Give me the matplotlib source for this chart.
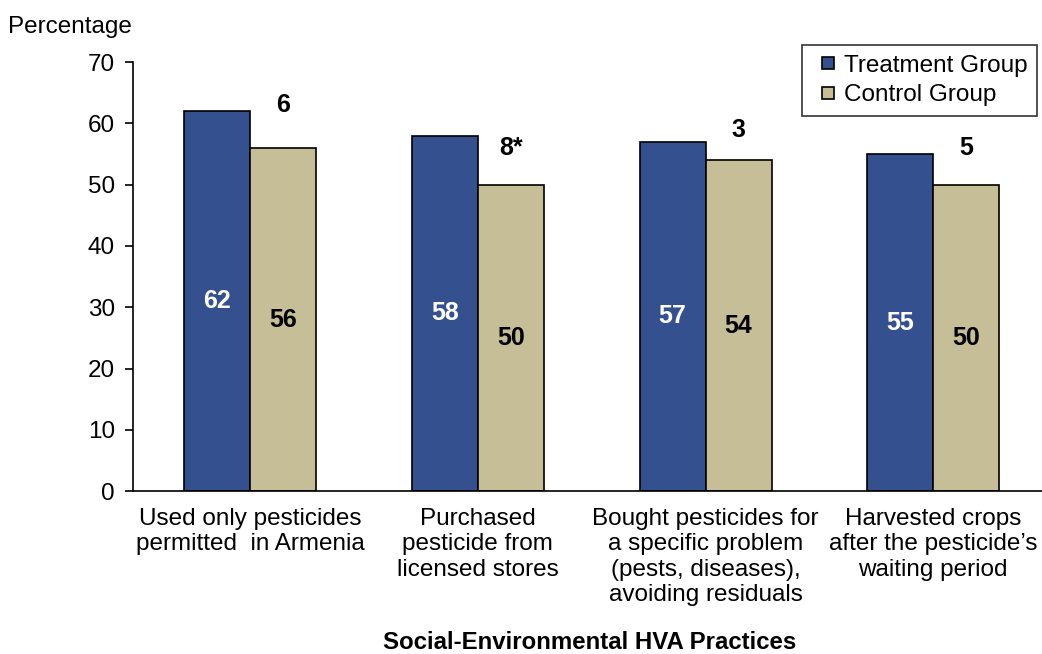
import matplotlib.pyplot as plt
from matplotlib.lines import Line2D
import numpy as np

plt.rcParams['font.family'] = ['Liberation Sans', 'DejaVu Sans']

# Data
categories = [
    "Used only pesticides\npermitted  in Armenia",
    "Purchased\npesticide from\nlicensed stores",
    "Bought pesticides for\na specific problem\n(pests, diseases),\navoiding residuals",
    "Harvested crops\nafter the pesticide\u2019s\nwaiting period",
]
series = ["Treatment Group", "Control Group"]
treatment = [62, 58, 57, 55]
control = [56, 50, 54, 50]
diff_labels = ["6", "8*", "3", "5"]
diff_offsets = [7, 6, 5, 6]  # gap above control bar

blue = "#34508F"
tan = "#C5BE97"
fs = 17.5

fig = plt.figure(figsize=(10.42, 6.54), dpi=100)
ax = fig.add_axes([0.1276, 0.249, 0.872, 0.656])

x = np.arange(len(categories))
w = 0.29
ax.bar(x - w / 2, treatment, width=w, color=blue, edgecolor="black", linewidth=1.2)
ax.bar(x + w / 2, control, width=w, color=tan, edgecolor="black", linewidth=1.2)

# values inside bars + difference above
for i in range(len(x)):
    ax.text(x[i] - w / 2, treatment[i] / 2, str(treatment[i]), ha="center", va="center",
            color="white", fontsize=18, fontweight="bold")
    ax.text(x[i] + w / 2, control[i] / 2, str(control[i]), ha="center", va="center",
            color="black", fontsize=18, fontweight="bold")
    ax.text(x[i] + w / 2, control[i] + diff_offsets[i], diff_labels[i], ha="center",
            va="center", color="black", fontsize=18, fontweight="bold")

ax.set_ylim(0, 70)
ax.set_xlim(-0.515, 3.476)
ax.set_yticks(range(0, 71, 10))
ax.set_xticks(x)
ax.set_xticklabels(categories, fontsize=fs, linespacing=1.2)
ax.tick_params(axis="x", length=0, pad=12)
ax.tick_params(axis="y", labelsize=fs, length=6, width=1.2, pad=7)

for s in ["top", "right"]:
    ax.spines[s].set_visible(False)
ax.spines["left"].set_linewidth(1.2)
ax.spines["bottom"].set_linewidth(1.2)

fig.text(0.008, 0.958, "Percentage", fontsize=fs, ha="left", va="center")
fig.text(0.566, 0.018, "Social-Environmental HVA Practices", fontsize=17.3,
         fontweight="bold", ha="center", va="center")

handles = [Line2D([], [], linestyle="none", marker="s", markersize=9,
                  markerfacecolor=c, markeredgecolor="black", markeredgewidth=1.2)
           for c in [blue, tan]]
leg = ax.legend(handles, series, loc="upper right", bbox_to_anchor=(0.995, 1.04),
                fontsize=fs, frameon=True, fancybox=False, edgecolor="black",
                handlelength=1.3, handletextpad=0.0, borderpad=0.4, labelspacing=0.3,
                borderaxespad=0)
leg.get_frame().set_linewidth(1.2)

plt.savefig("out.png", dpi=100)
plt.close()
